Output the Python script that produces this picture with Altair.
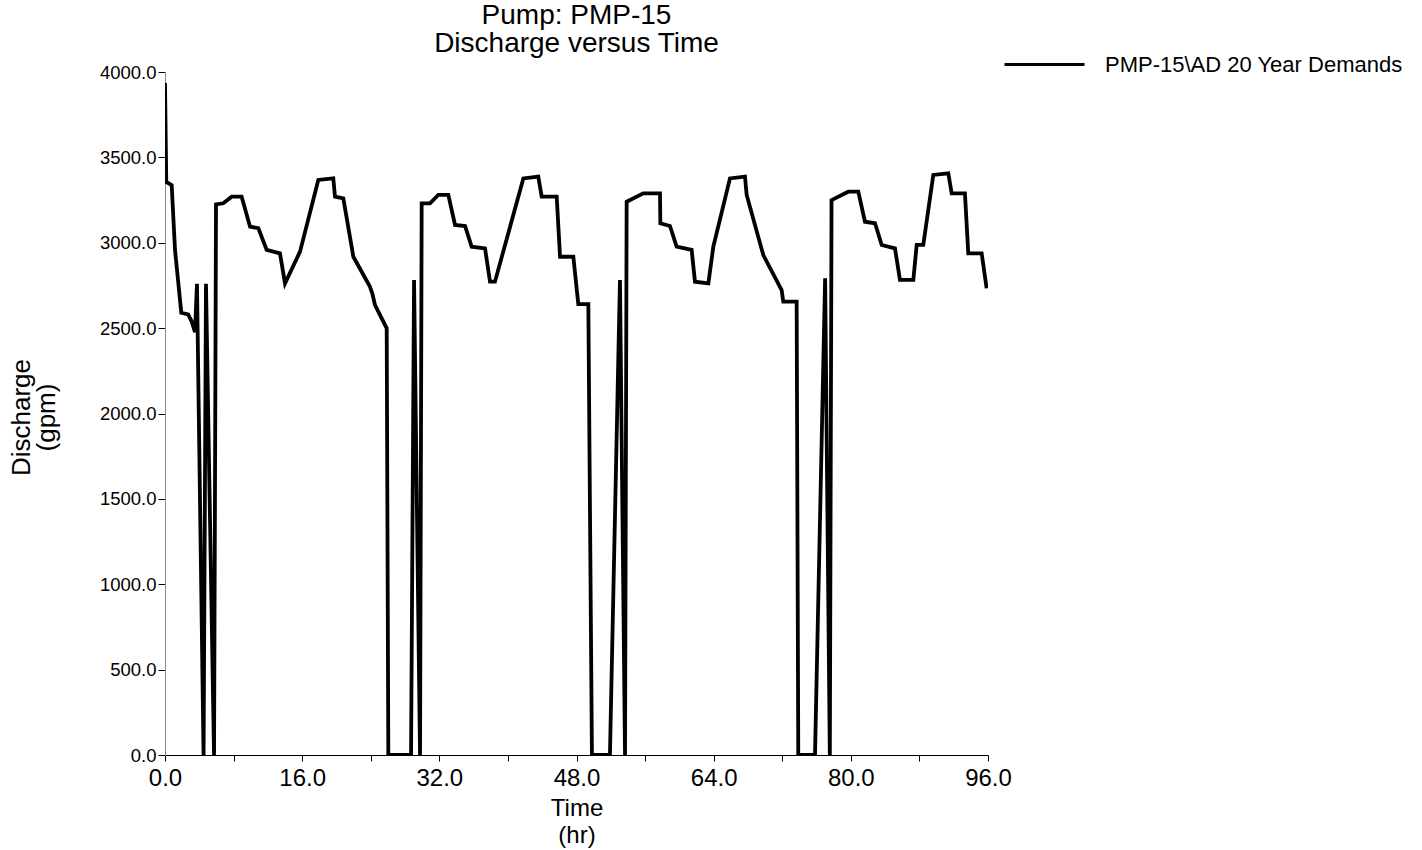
import altair as alt
import pandas as pd

# Time (hr) and discharge (gpm)
time_hr = [
    0.0, 0.15, 0.78, 1.17, 1.9, 2.7, 3.1, 3.5, 3.73, 4.5, 4.78, 5.72, 5.95,
    6.8, 7.78, 8.94, 9.92, 10.89, 11.86, 13.41, 14.0, 15.75, 17.88, 19.63, 19.83,
    20.8, 21.97, 23.9, 24.2, 24.5, 25.86, 26.05, 28.7, 29.05, 29.75, 29.94,
    30.91, 31.88, 33.05, 33.83, 35.0, 35.77, 37.33, 37.91, 38.49, 41.8, 43.54,
    43.94, 45.69, 46.08, 47.63, 48.21, 49.38, 49.8, 51.9, 53.07, 53.66, 53.85,
    55.79, 57.74, 57.78, 58.9, 59.68, 61.43, 61.82, 63.38, 63.96, 65.9, 67.65,
    67.85, 69.79, 71.93, 72.12, 73.68, 73.87, 75.82, 77.0, 77.55, 77.75,
    79.7, 80.87, 81.65, 82.82, 83.6, 85.15, 85.73, 87.29, 87.68, 88.45, 89.62,
    91.37, 91.76, 93.31, 93.7, 95.26, 95.84,
]
discharge_gpm = [
    3935, 3356, 3338, 2957, 2590, 2580, 2540, 2477, 2760, 0, 2760, 0, 3225,
    3231, 3270, 3270, 3094, 3085, 2958, 2938, 2762, 2948, 3368, 3377, 3270,
    3260, 2918, 2743, 2700, 2635, 2499, 0, 0, 2782, 0, 3231,
    3231, 3280, 3280, 3104, 3098, 2977, 2967, 2772, 2772, 3377, 3387,
    3270, 3270, 2918, 2918, 2640, 2640, 0, 0, 2782, 0, 3240,
    3289, 3289, 3114, 3098, 2977, 2958, 2772, 2762, 2977, 3377, 3387,
    3280, 2928, 2723, 2655, 2655, 0, 0, 2792, 0, 3250,
    3299, 3299, 3123, 3114, 2987, 2967, 2782, 2782, 2987, 2987, 3397,
    3407, 3289, 3289, 2938, 2938, 2733,
]
series_name = "PMP-15\\AD 20 Year Demands"

y_ticks = [0, 500, 1000, 1500, 2000, 2500, 3000, 3500, 4000]
x_ticks = [0, 8, 16, 24, 32, 40, 48, 56, 64, 72, 80, 88, 96]

df = pd.DataFrame({
    "t": time_hr,
    "q": discharge_gpm,
    "i": list(range(len(time_hr))),
    "series": [series_name] * len(time_hr),
})

FONT = "Liberation Sans"

chart = alt.Chart(df).mark_line(strokeWidth=3.8, clip=True).encode(
    x=alt.X("t:Q", scale=alt.Scale(domain=[0, 96], nice=False, zero=False),
            axis=alt.Axis(values=x_ticks, title=["Time", "(hr)"],
                          labelExpr="datum.value % 16 == 0 ? format(datum.value, '.1f') : ''",
                          labelFlush=False, labelOverlap=False,
                          tickSize=6, labelPadding=5, titlePadding=6,
                          labelFontSize=24, titleFontSize=24, titleLineHeight=27,
                          domainColor="black", tickColor="black")),
    y=alt.Y("q:Q", scale=alt.Scale(domain=[0, 4000], nice=False),
            axis=alt.Axis(values=y_ticks, format=".1f", title=["Discharge", "(gpm)"],
                          tickSize=7, labelPadding=2,
                          labelFontSize=18.5,
                          titleFontSize=26, titleLineHeight=25,
                          titleX=-157, titleY=345, titleBaseline="top",
                          titleAngle=270,
                          domainColor="#888888", tickColor="black")),
    order="i:Q",
    color=alt.Color("series:N", scale=alt.Scale(range=["black"]),
                    legend=alt.Legend(title=None, orient="none", legendX=838, legendY=-49,
                                      symbolType="stroke", symbolSize=6400,
                                      symbolStrokeWidth=3, labelFontSize=22,
                                      labelOffset=19, labelFont=FONT, labelLimit=500,
                                      labelColor="black", padding=0)),
).properties(
    width=823,
    height=683,
    autosize=alt.AutoSizeParams(type="none"),
    padding={"left": 165, "top": 72, "right": 434, "bottom": 95},
    background="white",
    title=alt.TitleParams(text=["Pump: PMP-15", "Discharge versus Time"],
                          fontSize=28, font=FONT, fontWeight="normal",
                          color="black", anchor="middle", offset=-35, lineHeight=28),
).configure_view(stroke=None).configure_axis(
    grid=False, labelFont=FONT, titleFont=FONT,
    titleFontWeight="normal", labelColor="black", titleColor="black",
    domainWidth=1, tickWidth=1,
)

chart.save("out.html", embed_options={"renderer": "svg", "actions": False})
